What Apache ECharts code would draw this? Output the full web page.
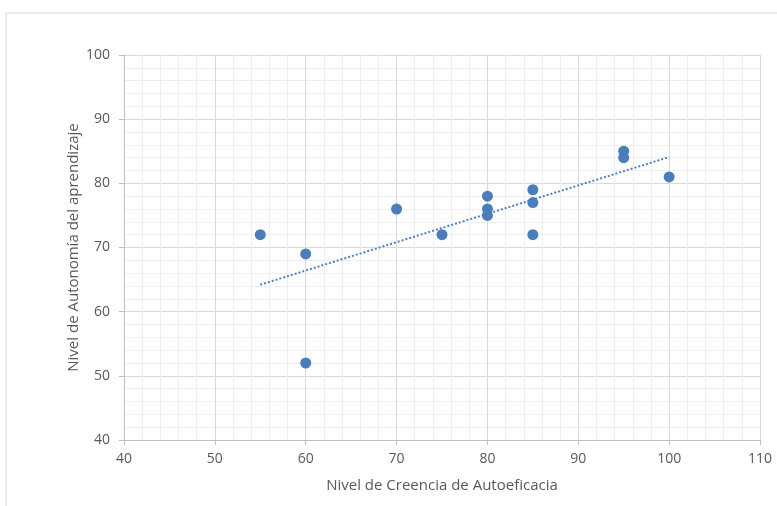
<!DOCTYPE html>
<html>
<head>
<meta charset="utf-8">
<script src="https://cdn.jsdelivr.net/npm/echarts@6/dist/echarts.min.js"></script>
<style>html,body{margin:0;padding:0;background:#fff;}#c{width:777px;height:506px;}</style>
</head>
<body>
<div id="c"></div>
<script>
const creencia = [55, 60, 60, 70, 75, 80, 80, 80, 85, 85, 85, 95, 95, 100];
const autonomia = [72, 69, 52, 76, 72, 78, 76, 75, 79, 77, 72, 85, 84, 81];
const trendX = [55, 100];
const trendY = [64.2, 84.1];
const xTicks = [40, 50, 60, 70, 80, 90, 100, 110];
const yTicks = [40, 50, 60, 70, 80, 90, 100];

const chart = echarts.init(document.getElementById('c'), null, {renderer: 'canvas'});
const font = '"Open Sans", "Noto Sans", sans-serif';
const labelColor = '#595959';
chart.setOption({
  animation: false,
  backgroundColor: '#fff',
  graphic: [{
    type: 'rect', shape: {x: 6, y: 13, width: 900, height: 600},
    style: {fill: 'none', stroke: '#d9d9d9', lineWidth: 1}, silent: true, z: -1
  }],
  grid: {left: 124, right: 17, top: 55, bottom: 66, containLabel: false},
  xAxis: {
    type: 'value', min: xTicks[0], max: xTicks[xTicks.length - 1], interval: 10,
    name: 'Nivel de Creencia de Autoeficacia', nameLocation: 'middle', nameGap: 38,
    nameTextStyle: {color: labelColor, fontSize: 15, fontFamily: font},
    axisLine: {show: true, lineStyle: {color: '#bfbfbf'}},
    axisTick: {show: true, length: 5, lineStyle: {color: '#bfbfbf'}},
    axisLabel: {color: labelColor, fontSize: 14, fontFamily: font, margin: 12},
    splitLine: {show: true, lineStyle: {color: '#d9d9d9'}},
    minorTick: {show: false, splitNumber: 5},
    minorSplitLine: {show: true, lineStyle: {color: '#eeeeee'}}
  },
  yAxis: {
    type: 'value', min: yTicks[0], max: yTicks[yTicks.length - 1], interval: 10,
    name: 'Nivel de Autonomía del aprendizaje', nameLocation: 'middle', nameGap: 43, nameRotate: 90,
    nameMoveOverlap: false,
    nameTextStyle: {color: labelColor, fontSize: 15, fontFamily: font},
    axisLine: {show: true, lineStyle: {color: '#bfbfbf'}},
    axisTick: {show: true, length: 5, lineStyle: {color: '#bfbfbf'}},
    axisLabel: {color: labelColor, fontSize: 14, fontFamily: font, margin: 14},
    splitLine: {show: true, lineStyle: {color: '#d9d9d9'}},
    minorTick: {show: false, splitNumber: 5},
    minorSplitLine: {show: true, lineStyle: {color: '#eeeeee'}}
  },
  series: [
    {
      type: 'line', data: trendX.map((x, i) => [x, trendY[i]]),
      showSymbol: false, symbol: 'none',
      lineStyle: {color: '#4f81bd', width: 2, type: [2, 2]}, z: 2
    },
    {
      type: 'scatter', data: creencia.map((x, i) => [x, autonomia[i]]),
      symbolSize: 11, itemStyle: {color: '#4a7ebb', opacity: 1}, z: 3
    }
  ]
});
</script>
</body>
</html>
